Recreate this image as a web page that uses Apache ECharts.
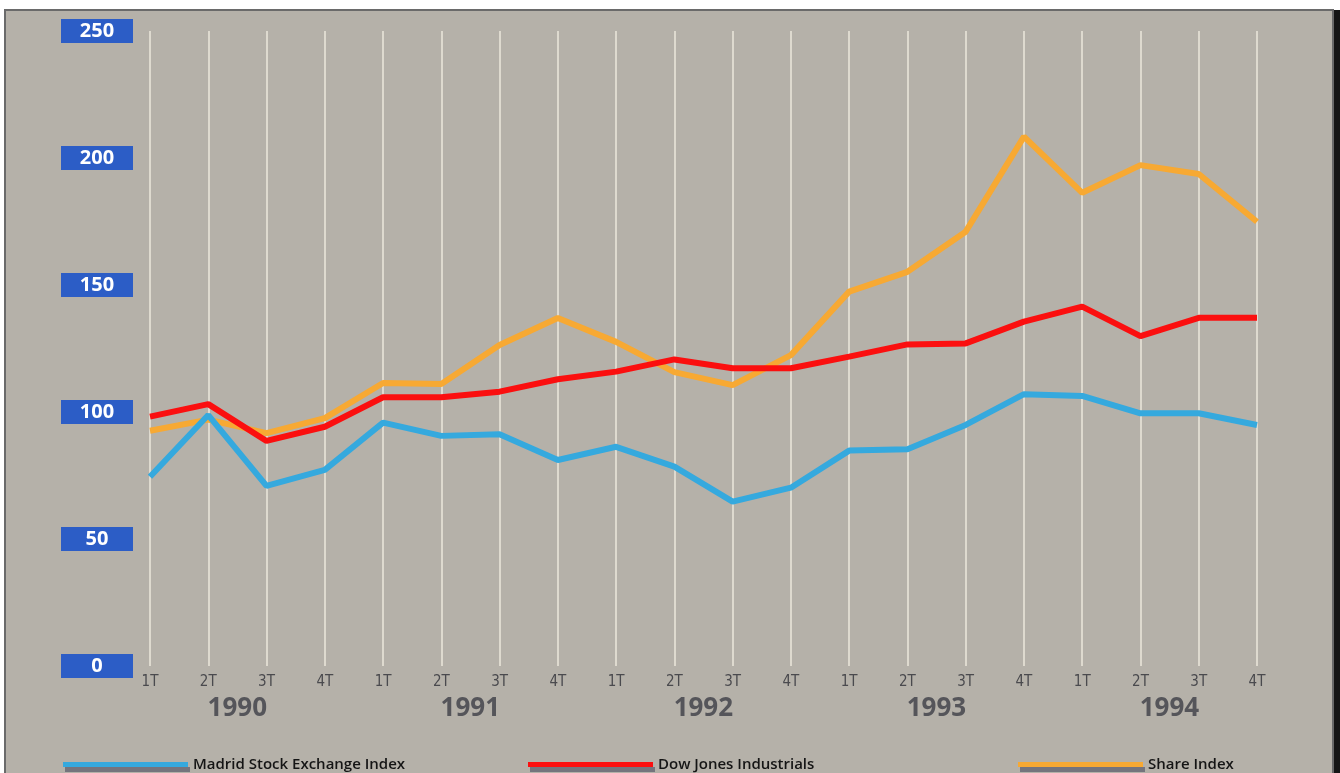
<!DOCTYPE html>
<html>
<head>
<meta charset="utf-8">
<script src="https://cdn.jsdelivr.net/npm/echarts@6/dist/echarts.min.js"></script>
<style>
  html, body { margin: 0; padding: 0; background: #fff; }
  #main { width: 1340px; height: 773px; }
</style>
</head>
<body>
<div id="main"></div>
<script>
// tick labels
var years = ["1990", "1991", "1992", "1993", "1994"];
var quarters = ["1T", "2T", "3T", "4T"];
var yTicks = [0, 50, 100, 150, 200, 250];

// series values, one per quarter 1T 1990 .. 4T 1994
var madrid = [74.5, 98.8, 70.9, 77.2, 95.8, 90.6, 91.2, 81.1, 86.3, 78.5,
              64.7, 70.2, 84.8, 85.3, 94.9, 107.0, 106.3, 99.5, 99.5, 94.9];
var dowJones = [98.2, 103.1, 88.6, 94.2, 105.8, 105.8, 108.0, 112.9, 115.9, 120.7,
                117.2, 117.2, 121.8, 126.6, 127.0, 135.6, 141.5, 129.9, 137.1, 137.1];
var shareIndex = [92.6, 97.0, 91.7, 97.6, 111.4, 111.0, 126.4, 137.0, 127.6, 115.7,
                  110.6, 122.4, 147.4, 155.2, 171.0, 208.4, 186.3, 197.2, 193.7, 174.9];

var seriesNames = ["Madrid Stock Exchange Index", "Dow Jones Industrials", "Share Index"];

var categories = [];
years.forEach(function (y) {
  quarters.forEach(function (q) {
    categories.push(q);
  });
});

var chart = echarts.init(document.getElementById("main"));

// one legend per series so each sits where the original put it
function legendAt(name, left) {
  return {
    data: [name],
    left: left,
    top: 752,
    icon: "rect",
    itemWidth: 125,
    itemHeight: 5,
    itemGap: 0,
    itemStyle: { shadowColor: "rgba(110,110,120,0.9)", shadowOffsetX: 2, shadowOffsetY: 5, shadowBlur: 0 },
    textStyle: { color: "#151515", fontSize: 15, fontWeight: 600, fontFamily: "Open Sans" },
    selectedMode: false
  };
}

var option = {
  backgroundColor: "#ffffff",
  animation: false,
  graphic: [
    { type: "rect", z: -10, shape: { x: 5, y: 10, width: 1328, height: 770 },
      style: { fill: "#b5b1a9", stroke: "#6a6a6a", lineWidth: 2 } },
    { type: "rect", z: -9, shape: { x: 1334, y: 10, width: 6, height: 763 },
      style: { fill: "#151515" } }
  ],
  grid: { left: 150, right: 83, top: 31, bottom: 107 },
  legend: [
    legendAt(seriesNames[0], 58),
    legendAt(seriesNames[1], 523),
    legendAt(seriesNames[2], 1013)
  ],
  xAxis: [
    {
      type: "category",
      data: categories,
      boundaryGap: false,
      axisLine: { show: false },
      axisTick: { show: false },
      splitLine: { show: true, interval: 0, lineStyle: { color: "#ece8dc", width: 1.5 } },
      axisLabel: { interval: 0, margin: 9, color: "#4a4a4e", fontSize: 15, fontFamily: "DejaVu Sans Condensed" }
    },
    {
      type: "category",
      data: categories,
      boundaryGap: false,
      position: "bottom",
      axisLine: { show: false },
      axisTick: { show: false },
      splitLine: { show: false },
      axisLabel: {
        interval: 0,
        margin: 30,
        color: "#55555a",
        fontSize: 26,
        fontFamily: "Open Sans",
        fontWeight: "bold",
        padding: [0, 0, 0, 58],
        formatter: function (v, i) {
          return i % 4 === 1 ? years[Math.floor(i / 4)] : "";
        }
      }
    }
  ],
  yAxis: {
    type: "value",
    min: yTicks[0],
    max: yTicks[yTicks.length - 1],
    interval: 50,
    axisLine: { show: false },
    axisTick: { show: false },
    splitLine: { show: false },
    axisLabel: {
      margin: 17,
      formatter: function (v) { return "{b|" + v + "}"; },
      rich: {
        b: {
          width: 72,
          height: 24,
          align: "center",
          verticalAlign: "middle",
          backgroundColor: "#2c5dc6",
          color: "#ffffff",
          fontSize: 20,
          fontWeight: "bold",
          fontFamily: "Open Sans"
        }
      }
    }
  },
  series: [
    {
      name: seriesNames[2], type: "line", data: shareIndex, showSymbol: false,
      color: "#f7a933", lineStyle: { width: 6, color: "#f7a933" }
    },
    {
      name: seriesNames[0], type: "line", data: madrid, showSymbol: false,
      color: "#35a9de", lineStyle: { width: 6, color: "#35a9de" }
    },
    {
      name: seriesNames[1], type: "line", data: dowJones, showSymbol: false,
      color: "#fb0f0f", lineStyle: { width: 6, color: "#fb0f0f" }
    }
  ]
};

chart.setOption(option);
</script>
</body>
</html>
